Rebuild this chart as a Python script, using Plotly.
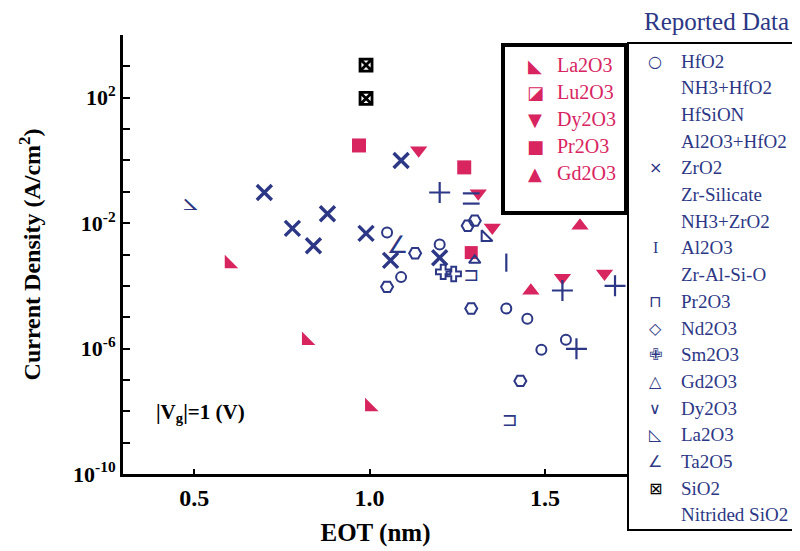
import plotly.graph_objects as go

# ---------------- data (EOT in nm, current density in A/cm^2) ----------------
# red series (inner legend)
la2o3_r_eot = [0.60, 0.82, 1.00]
la2o3_r_j = [5.1e-4, 1.8e-6, 1.4e-8]
lu2o3_eot = [1.29]
lu2o3_j = [1.15e-3]
dy2o3_r_eot = [1.14, 1.31, 1.35, 1.55, 1.67]
dy2o3_r_j = [2.1, 8.9e-2, 7.2e-3, 1.8e-4, 2.5e-4]
pr2o3_r_eot = [0.97, 1.27]
pr2o3_r_j = [3.0, 0.6]
gd2o3_r_eot = [1.46, 1.60]
gd2o3_r_j = [7.0e-5, 8.3e-3]

# blue series (reported data)
hfo2_eot = [1.05, 1.09, 1.20, 1.39, 1.45, 1.49, 1.56]
hfo2_j = [5.0e-3, 1.9e-4, 2.1e-3, 1.9e-5, 8.9e-6, 9.1e-7, 1.9e-6]
nd2o3_eot = [1.13, 1.05, 1.28, 1.30, 1.29, 1.43]
nd2o3_j = [1.1e-3, 9.3e-5, 8.3e-3, 1.2e-2, 1.9e-5, 9.3e-8]
zro2_eot = [0.70, 0.88, 0.78, 0.84, 0.99, 1.09, 1.06, 1.20]
zro2_j = [9.5e-2, 2.0e-2, 6.8e-3, 1.9e-3, 4.7e-3, 1.0, 6.5e-4, 7.9e-4]
hfsion_eot = [1.20, 1.55, 1.70, 1.59]
hfsion_j = [9.5e-2, 7.1e-5, 1.0e-4, 9.8e-7]
al2o3_eot = [1.39]
al2o3_j = [5.5e-4]
zralsio_eot = [1.29, 1.29]
zralsio_j = [8.9e-2, 4.2e-2]
pr2o3_b_eot = [1.29, 1.40]
pr2o3_b_j = [2.1e-4, 4.9e-9]
sm2o3_eot = [1.21, 1.24]
sm2o3_j = [2.8e-4, 2.4e-4]
gd2o3_b_eot = [1.30]
gd2o3_b_j = [6.5e-4]
la2o3_b_eot = [1.33]
la2o3_b_j = [3.5e-3]
ta2o5_eot = [1.08]
ta2o5_j = [1.8e-3]
dy2o3_b_eot = [0.49]
dy2o3_b_j = [4.3e-2]
sio2_eot = [0.99]
sio2_j = [95.0]
nsio2_eot = [0.99]
nsio2_j = [1100.0]

x_ticks = [0.5, 1.0, 1.5]
x_ticklabels = ["0.5", "1.0", "1.5"]
y_decades = list(range(-10, 5))
y_label_decades = [2, -2, -6, -10]
y_ticklabels = ["10<sup>2</sup>", "10<sup>-2</sup>", "10<sup>-6</sup>", "10<sup>-10</sup>"]

red_legend = [("◣", "La2O3"), ("◪", "Lu2O3"), ("▼", "Dy2O3"), ("■", "Pr2O3"), ("▲", "Gd2O3")]
blue_legend = [("○", "HfO2"), ("", "NH3+HfO2"), ("", "HfSiON"), ("", "Al2O3+HfO2"),
               ("×", "ZrO2"), ("", "Zr-Silicate"), ("", "NH3+ZrO2"), ("I", "Al2O3"),
               ("", "Zr-Al-Si-O"), ("⊓", "Pr2O3"), ("◇", "Nd2O3"), ("✙", "Sm2O3"),
               ("△", "Gd2O3"), ("∨", "Dy2O3"), ("◺", "La2O3"), ("∠", "Ta2O5"),
               ("⊠", "SiO2"), ("", "Nitrided SiO2")]

# ---------------- styling ----------------
NAVY = "#2c3785"
RED = "#d8245f"
SERIF = "Liberation Serif"
SYM = "DejaVu Sans"

OFF = 8                      # page body margin
W, H = 800 - OFF, 551 - OFF  # figure size
L, R, T, B = 123, 628, 35, 474  # plot area in page pixels


def pxx(x):
    return (x - L) / (R - L)


def pxy(y):
    return (B - y) / (B - T)


fig = go.Figure()


def mk(x, y, name, symbol, color, size, lw=0):
    fig.add_trace(go.Scatter(
        x=x, y=y, mode="markers", name=name, showlegend=False,
        marker=dict(symbol=symbol, size=size, color=color,
                    line=dict(color=color, width=lw))))


def tx(x, y, name, glyph, color, size):
    fig.add_trace(go.Scatter(
        x=x, y=y, mode="text", name=name, showlegend=False,
        text=[glyph] * len(x), textposition="middle center",
        textfont=dict(family=SYM, size=size, color=color)))


# red series
mk(la2o3_r_eot, la2o3_r_j, "La2O3", "triangle-sw", RED, 15)
mk(lu2o3_eot, lu2o3_j, "Lu2O3", "square", RED, 13)
mk(dy2o3_r_eot, dy2o3_r_j, "Dy2O3", "triangle-down", RED, 15)
mk(pr2o3_r_eot, pr2o3_r_j, "Pr2O3", "square", RED, 14)
mk(gd2o3_r_eot, gd2o3_r_j, "Gd2O3", "triangle-up", RED, 15)

# blue series
mk(hfo2_eot, hfo2_j, "HfO2", "circle-open", NAVY, 10, 2)
mk(nd2o3_eot, nd2o3_j, "Nd2O3", "hexagon2-open", NAVY, 12, 2)
mk(zro2_eot, zro2_j, "ZrO2", "x-thin-open", NAVY, 15, 3.4)
mk(hfsion_eot, hfsion_j, "HfSiON", "cross-thin-open", NAVY, 15, 2.2)
mk(al2o3_eot, al2o3_j, "Al2O3", "line-ns-open", NAVY, 13, 2.2)
mk(zralsio_eot, zralsio_j, "Zr-Al-Si-O", "line-ew-open", NAVY, 12, 2.2)
mk(sm2o3_eot, sm2o3_j, "Sm2O3", "cross-open", NAVY, 12, 2)
mk(gd2o3_b_eot, gd2o3_b_j, "Gd2O3", "triangle-up-open", NAVY, 10, 2)
mk(la2o3_b_eot, la2o3_b_j, "La2O3", "triangle-sw-open", NAVY, 12, 2)
tx(pr2o3_b_eot, pr2o3_b_j, "Pr2O3", "⊐", NAVY, 19)
tx(ta2o5_eot, ta2o5_j, "Ta2O5", "∠", NAVY, 24)
tx(dy2o3_b_eot, dy2o3_b_j, "Dy2O3", "⦣", NAVY, 26)
mk(sio2_eot, sio2_j, "SiO2", "square-x-open", "black", 12, 2.8)
mk(nsio2_eot, nsio2_j, "Nitrided SiO2", "square-x-open", "black", 12, 2.8)

# ---------------- axes ----------------
fig.update_xaxes(
    range=[0.297, 1.737], tickvals=x_ticks,
    ticktext=["<b>%s</b>" % t for t in x_ticklabels],
    ticks="inside", ticklen=5, tickwidth=2, tickcolor="black",
    showline=True, linewidth=3, linecolor="black", mirror=False,
    showgrid=False, zeroline=False,
    tickfont=dict(family=SERIF, size=24, color="black"),
    title=dict(text="<b>EOT (nm)</b>", font=dict(family=SERIF, size=25, color="black"), standoff=14),
)
fig.update_yaxes(
    type="log", range=[-10, 4],
    tickvals=[10.0 ** k for k in y_label_decades],
    ticktext=["<b>%s</b>" % t for t in y_ticklabels],
    ticks="inside", ticklen=7, tickwidth=2, tickcolor="black",
    minor=dict(tickvals=[10.0 ** k for k in y_decades], ticks="inside", ticklen=7,
               tickwidth=2, tickcolor="black", showgrid=False),
    showline=True, linewidth=3, linecolor="black", mirror=False,
    showgrid=False, zeroline=False,
    tickfont=dict(family=SERIF, size=22, color="black"),
    title=dict(text="<b>Current Density (A/cm<sup>2</sup>)</b>",
               font=dict(family=SERIF, size=24, color="black"), standoff=26),
)

# ---------------- annotations / legends ----------------
ann = []
shapes = []
ann.append(dict(x=pxx(200), y=pxy(413), xref="paper", yref="paper", showarrow=False,
                xanchor="center", yanchor="middle",
                text="<b>|V<sub>g</sub>|=1 (V)</b>", font=dict(family=SERIF, size=21, color="black")))

# inner (red) legend
shapes.append(dict(type="rect", xref="paper", yref="paper", x0=pxx(503), x1=pxx(626),
                   y0=pxy(213), y1=pxy(45), line=dict(color="black", width=4)))
for i, (g, name) in enumerate(red_legend):
    yy = 65 + 27 * i
    ann.append(dict(x=pxx(535), y=pxy(yy), xref="paper", yref="paper", showarrow=False,
                    xanchor="center", yanchor="middle", text=g,
                    font=dict(family=SYM, size=18, color=RED)))
    ann.append(dict(x=pxx(555), y=pxy(yy), xref="paper", yref="paper", showarrow=False,
                    xanchor="left", yanchor="middle", text=name,
                    font=dict(family=SERIF, size=20, color=RED)))

# outer (blue) legend
ann.append(dict(x=pxx(716), y=pxy(21), xref="paper", yref="paper", showarrow=False,
                xanchor="center", yanchor="middle", text="Reported Data",
                font=dict(family=SERIF, size=25, color=NAVY)))
shapes.append(dict(type="rect", xref="paper", yref="paper", x0=pxx(628), x1=pxx(806),
                   y0=pxy(530), y1=pxy(43), line=dict(color="black", width=2)))
for i, (g, name) in enumerate(blue_legend):
    yy = 61 + 26.7 * i
    if g:
        col = "black" if name == "SiO2" else NAVY
        ann.append(dict(x=pxx(655), y=pxy(yy), xref="paper", yref="paper", showarrow=False,
                        xanchor="center", yanchor="middle", text=g,
                        font=dict(family=SYM if g != "I" else SERIF, size=16, color=col)))
    ann.append(dict(x=pxx(679), y=pxy(yy), xref="paper", yref="paper", showarrow=False,
                    xanchor="left", yanchor="middle", text=name,
                    font=dict(family=SERIF, size=19, color=NAVY)))

fig.update_layout(
    width=W, height=H,
    margin=dict(l=L - OFF, r=W - (R - OFF), t=T - OFF, b=H - (B - OFF), autoexpand=False),
    paper_bgcolor="white", plot_bgcolor="white",
    showlegend=False,
    annotations=ann, shapes=shapes,
)

fig.write_html("out.html")
